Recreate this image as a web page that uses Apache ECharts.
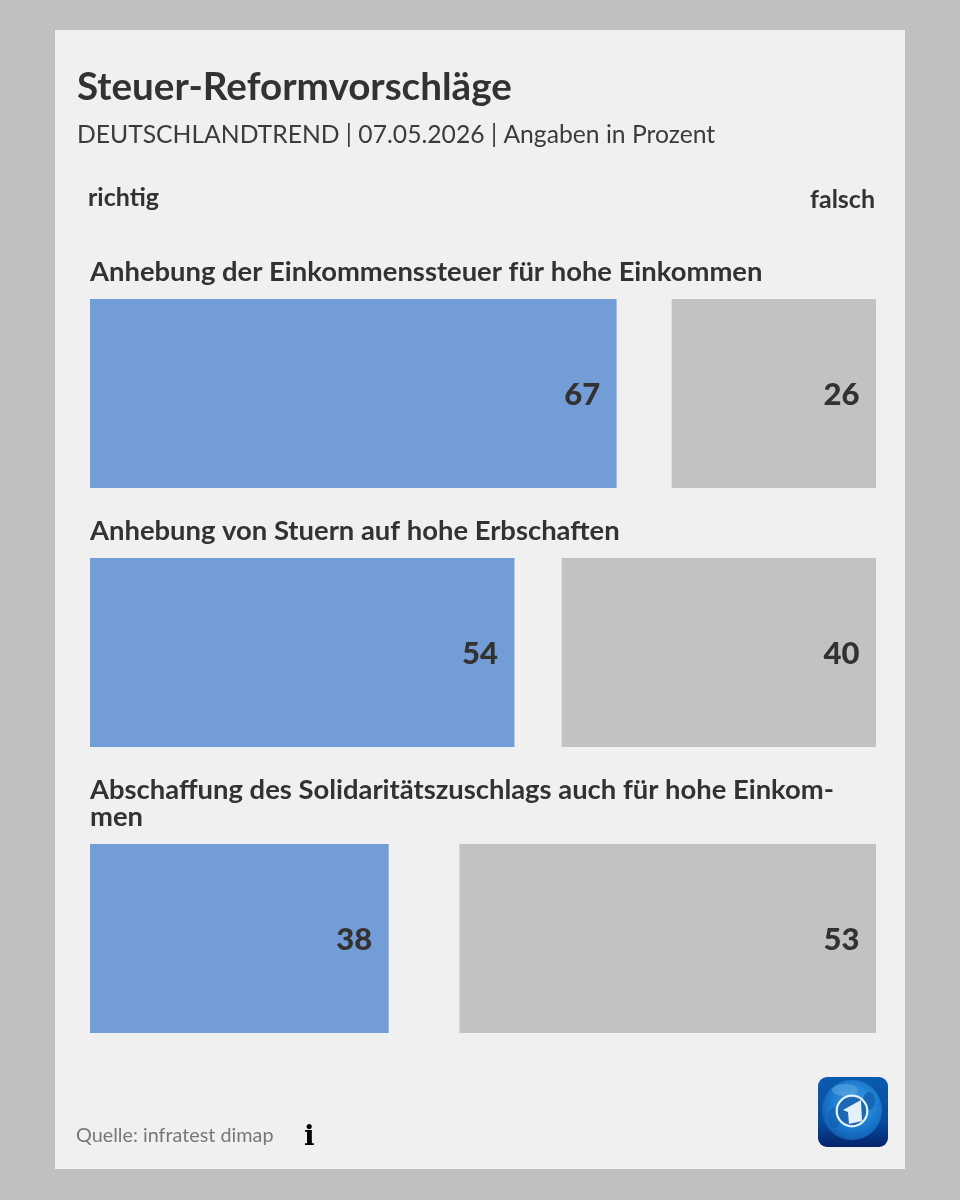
<!DOCTYPE html>
<html><head><meta charset="utf-8">
<style>html,body{margin:0;padding:0;background:#c0c0c0}#c{width:960px;height:1200px}</style>
<script src="https://cdn.jsdelivr.net/npm/echarts@6/dist/echarts.min.js"></script>
</head><body><div id="c"></div>
<script>
const mainTitle = 'Steuer-Reformvorschläge';
const subTitle = 'DEUTSCHLANDTREND | 07.05.2026 | Angaben in Prozent';
const source = 'Quelle: infratest dimap';
const seriesNames = ['richtig', 'falsch'];
const topics = [
  'Anhebung der Einkommenssteuer für hohe Einkommen',
  'Anhebung von Stuern auf hohe Erbschaften',
  'Abschaffung des Solidaritätszuschlags auch für hohe Einkom-\nmen'
];
const richtig = [67, 54, 38];
const falsch = [26, 40, 53];
const gridTops = [299, 558, 844];
const topicTops = [258, 517, 776];
const FONT = 'Lato';
const INK = '#333230';

const grids = [], xAxes = [], yAxes = [], series = [], titles = [];
const labelStyle = {show:true, position:'insideRight', distance:16.5, offset:[0,1], fontFamily:FONT, fontWeight:900, fontSize:31, color:INK};
topics.forEach((t, i) => {
  grids.push({left:90, width:786, top:gridTops[i], height:189});
  xAxes.push({gridIndex:i, type:'value', min:0, max:100, show:false});
  xAxes.push({gridIndex:i, type:'value', min:0, max:100, show:false, inverse:true});
  yAxes.push({gridIndex:i, type:'category', data:[t], show:false});
  series.push({name:seriesNames[0], type:'bar', xAxisIndex:2*i, yAxisIndex:i, data:[richtig[i]], barWidth:'100%', barGap:'-100%',
    itemStyle:{color:'#729dd6'}, label:labelStyle, silent:true, animation:false});
  series.push({name:seriesNames[1], type:'bar', xAxisIndex:2*i+1, yAxisIndex:i, data:[falsch[i]], barWidth:'100%', barGap:'-100%',
    itemStyle:{color:'#c2c2c2'}, label:labelStyle, silent:true, animation:false});
  titles.push({text:t, left:90, top:topicTops[i]+1, padding:0,
    textStyle:{fontFamily:FONT, fontWeight:700, fontSize:27.4, lineHeight:27, color:INK}});
});
titles.push({text:mainTitle, left:77, top:65, padding:0, textStyle:{fontFamily:FONT, fontWeight:700, fontSize:38.6, lineHeight:46, color:INK}});
titles.push({text:subTitle, left:77, top:120, padding:0, textStyle:{fontFamily:FONT, fontWeight:400, fontSize:24.7, lineHeight:30, color:'#3c3b39'}});
titles.push({text:seriesNames[0], left:88, top:184, padding:0, textStyle:{fontFamily:FONT, fontWeight:700, fontSize:25, lineHeight:28, color:INK}});
titles.push({text:seriesNames[1], right:85, top:186, padding:0, textStyle:{fontFamily:FONT, fontWeight:700, fontSize:25, lineHeight:28, color:INK}});
titles.push({text:source, left:76, top:1124, padding:0, textStyle:{fontFamily:FONT, fontWeight:400, fontSize:19.8, lineHeight:24, color:'#777'}});
titles.push({text:'i', left:304, top:1121, padding:0, textStyle:{fontFamily:'DejaVu Serif', fontWeight:900, fontSize:28, lineHeight:34, color:'#000'}});

const chart = echarts.init(document.getElementById('c'), null, {renderer:'canvas'});
chart.setOption({
  animation:false, backgroundColor:'#c0c0c0',
  title:titles, grid:grids, xAxis:xAxes, yAxis:yAxes, series:series,
  graphic:[
    {type:'rect', z:-10, shape:{x:55,y:30,width:850,height:1139}, style:{fill:'#f0f0f0'}},
    {type:'group', x:818, y:1077, z:5, children:[
      {type:'rect', shape:{x:0,y:0,width:70,height:70,r:9},
       style:{fill:new echarts.graphic.LinearGradient(0,0,0,1,[{offset:0,color:'#0a5cb0'},{offset:0.65,color:'#0a4a9c'},{offset:1,color:'#03246b'}])}},
      {type:'circle', shape:{cx:34,cy:33,r:30},
       style:{fill:new echarts.graphic.RadialGradient(0.55,0.4,0.7,[{offset:0,color:'#3f9fe6'},{offset:0.6,color:'#1a78cc'},{offset:1,color:'#0a52a4'}])}},
      {type:'ellipse', shape:{cx:27,cy:13,rx:13,ry:6}, style:{fill:'#5fa8e0', opacity:0.6}},
      {type:'ellipse', shape:{cx:51,cy:24,rx:6,ry:9}, style:{fill:'#0f5aa8', opacity:0.7}},
      {type:'ellipse', shape:{cx:16,cy:41,rx:6,ry:10}, style:{fill:'#0f5aa8', opacity:0.5}},
      {type:'circle', shape:{cx:34,cy:34,r:15.3}, style:{fill:'#1c68b4', stroke:'#e6f2fa', lineWidth:2.2}},
      {type:'polygon', shape:{points:[[25,33],[43,23],[44,44],[31,47],[30,35]]}, style:{fill:'#e4f0f9'}}
    ]}
  ]
});
</script></body></html>
